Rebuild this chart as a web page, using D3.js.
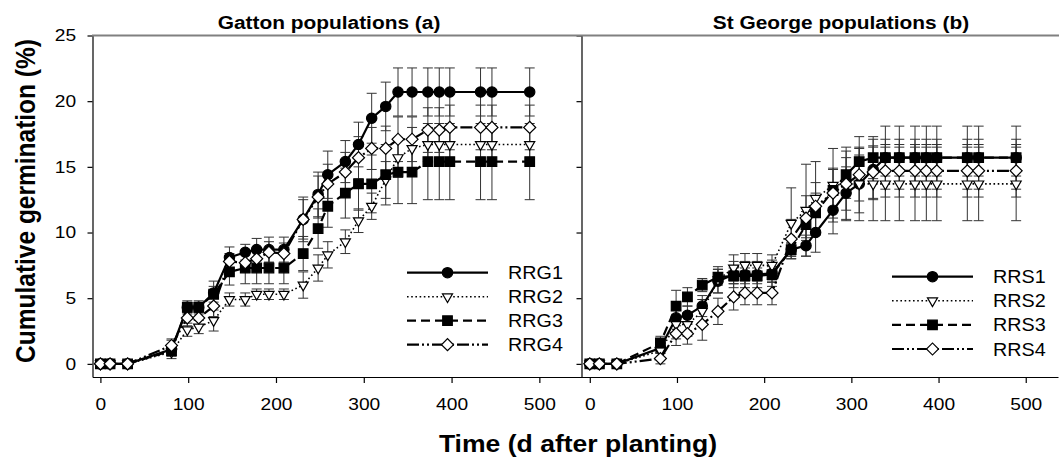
<!DOCTYPE html>
<html>
<head>
<meta charset="utf-8">
<script src="https://cdn.jsdelivr.net/npm/d3@7"></script>
<style>
  html, body { margin: 0; padding: 0; background: #ffffff; }
  svg { display: block; font-family: Arial, "Liberation Sans", sans-serif; }
</style>
</head>
<body>
<svg id="chart" width="1059" height="460"></svg>
<script>
// ---- data -------------------------------------------------------------
const days = [0, 11, 31, 81, 99, 112, 129, 147, 165, 178, 192, 209, 231, 248, 259,
              279, 294, 309, 325, 339, 355, 373, 386, 398, 433, 446, 489];

const xTicks = [0, 100, 200, 300, 400, 500];
const yTicks = [0, 5, 10, 15, 20, 25];
const panelTitles = ["Gatton populations (a)", "St George populations (b)"];
const xTitle = "Time (d after planting)";
const yTitle = "Cumulative germination (%)";

// Gatton populations
const gattonNames = ["RRG1", "RRG2", "RRG3", "RRG4"];
const rrg1 = [0, 0, 0, 1.1, 4.3, 4.3, 5.4, 8.1, 8.5, 8.7, 8.7, 8.7, 11.0, 12.9, 14.4, 15.4, 16.7, 18.7, 19.6, 20.7, 20.7, 20.7, 20.7, 20.7, 20.7, 20.7, 20.7];
const rrg2 = [0, 0, 0, 0.9, 2.6, 2.8, 3.3, 4.9, 4.9, 5.3, 5.3, 5.3, 6.0, 7.3, 8.3, 9.3, 10.9, 12.0, 14.0, 15.7, 16.4, 16.7, 16.7, 16.7, 16.7, 16.7, 16.7];
const rrg3 = [0, 0, 0, 1.0, 4.3, 4.3, 5.3, 7.0, 7.3, 7.3, 7.3, 7.3, 8.4, 10.3, 12.0, 13.0, 13.7, 13.7, 14.4, 14.6, 14.6, 15.4, 15.4, 15.4, 15.4, 15.4, 15.4];
const rrg4 = [0, 0, 0, 1.4, 3.5, 3.5, 4.4, 7.8, 7.7, 8.0, 8.5, 8.4, 11.0, 12.7, 13.7, 14.6, 15.7, 16.4, 16.4, 17.1, 17.1, 17.8, 17.8, 18.0, 18.0, 18.0, 18.0];
const rrg1Err = [0, 0, 0, 0.7, 0.4, 0.4, 0.9, 0.8, 0.6, 0.85, 0.95, 0.95, 1.5, 1.7, 1.8, 1.6, 1.7, 1.9, 1.85, 1.83, 1.83, 1.83, 1.83, 1.83, 1.83, 1.83, 1.83];
const rrg2Err = [0, 0, 0, 0.3, 0.5, 0.5, 0.8, 0.5, 0.5, 0.4, 0.4, 0.4, 1.0, 1.0, 1.0, 0.9, 0.9, 1.0, 1.4, 1.5, 1.6, 1.3, 1.3, 1.3, 1.3, 1.3, 1.3];
const rrg3Err = [0, 0, 0, 0.4, 0.5, 0.5, 0.6, 1.0, 1.2, 1.2, 1.2, 1.2, 1.3, 1.5, 1.6, 1.9, 2.0, 2.2, 2.3, 2.4, 2.4, 2.9, 2.9, 2.9, 2.9, 2.9, 2.9];
const rrg4Err = [0, 0, 0, 0.5, 0.6, 0.6, 0.8, 0.6, 0.7, 0.8, 0.8, 0.8, 1.7, 1.6, 1.5, 1.5, 1.6, 1.6, 1.7, 1.7, 1.7, 1.7, 1.7, 1.7, 1.7, 1.7, 1.7];

// St George populations
const stGeorgeNames = ["RRS1", "RRS2", "RRS3", "RRS4"];
const rrs1 = [0, 0, 0, 1.2, 3.5, 3.7, 4.4, 6.3, 6.8, 6.8, 6.8, 6.9, 8.7, 9.0, 10.0, 11.7, 13.0, 13.7, 14.8, 15.7, 15.7, 15.7, 15.7, 15.7, 15.7, 15.7, 15.7];
const rrs2 = [0, 0, 0, 1.0, 3.0, 3.0, 4.0, 6.4, 7.3, 7.5, 7.5, 7.5, 10.7, 11.7, 12.6, 13.6, 13.7, 13.7, 13.7, 13.7, 13.7, 13.7, 13.7, 13.7, 13.7, 13.7, 13.7];
const rrs3 = [0, 0, 0, 1.6, 4.4, 5.1, 6.0, 6.6, 6.7, 6.7, 6.7, 6.8, 8.7, 10.6, 11.5, 13.2, 14.4, 15.4, 15.7, 15.7, 15.7, 15.7, 15.7, 15.7, 15.7, 15.7, 15.7];
const rrs4 = [0, 0, 0, 0.4, 2.3, 2.3, 3.0, 4.0, 5.1, 5.4, 5.4, 5.4, 9.5, 11.1, 12.0, 13.0, 13.7, 14.4, 14.6, 14.7, 14.7, 14.7, 14.7, 14.7, 14.7, 14.7, 14.7];
const rrs1Err = [0, 0, 0, 0.4, 0.6, 0.7, 0.8, 0.9, 1.0, 1.0, 1.0, 1.0, 0.5, 0.8, 1.5, 1.8, 2.0, 2.2, 2.3, 2.4, 2.4, 2.4, 2.4, 2.4, 2.4, 2.4, 2.4];
const rrs2Err = [0, 0, 0, 0.6, 1.1, 0.9, 0.9, 1.0, 1.0, 0.9, 0.9, 0.8, 2.7, 3.5, 2.8, 2.8, 2.8, 2.8, 2.8, 2.8, 2.8, 2.8, 2.8, 2.8, 2.8, 2.8, 2.8];
const rrs3Err = [0, 0, 0, 0.5, 1.2, 0.7, 0.5, 0.6, 0.6, 0.6, 0.6, 0.6, 0.5, 1.0, 1.5, 1.6, 1.8, 1.9, 1.6, 1.4, 1.4, 1.4, 1.4, 1.4, 1.4, 1.4, 1.4];
const rrs4Err = [0, 0, 0, 0.4, 0.9, 0.8, 1.2, 1.0, 1.0, 0.9, 0.9, 0.9, 1.5, 1.7, 1.8, 1.9, 2.0, 2.0, 2.0, 2.0, 2.0, 2.0, 2.0, 2.0, 2.0, 2.0, 2.0];

// ---- layout & styles --------------------------------------------------
const TXS = 1.13;            // horizontal widening applied to all text
const W = 1059;
const plotTop = 35.5, plotBottom = 377;

const y = d3.scaleLinear().domain([-1, 25]).range([plotBottom, plotTop]);

const panels = [
  {
    title: panelTitles[0], names: gattonNames,
    values: [rrg1, rrg2, rrg3, rrg4], errors: [rrg1Err, rrg2Err, rrg3Err, rrg4Err],
    x: d3.scaleLinear().domain([-9, 548]).range([92.5, 581.5]),
    titleX: 329, yLabels: true,
    legend: { x0: 407, x1: 488, y0: 272.7, dy: 24, tx: 508 }
  },
  {
    title: panelTitles[1], names: stGeorgeNames,
    values: [rrs1, rrs2, rrs3, rrs4], errors: [rrs1Err, rrs2Err, rrs3Err, rrs4Err],
    x: d3.scaleLinear().domain([-9.5, 537]).range([581.5, 1058]),
    titleX: 841, yLabels: false,
    legend: { x0: 892, x1: 973, y0: 276.7, dy: 24.1, tx: 993 }
  }
];

const seriesStyle = [
  { symbol: d3.symbolCircle,   size: 84,  fill: "#000", rotate: 0,   dash: null,             width: 2.2 },
  { symbol: d3.symbolTriangle, size: 44,  fill: "#fff", rotate: 180, dash: "1.6,2.6",        width: 1.6 },
  { symbol: d3.symbolSquare,   size: 92,  fill: "#000", rotate: 0,   dash: "9,5",            width: 2.2 },
  { symbol: d3.symbolSquare,   size: 72,  fill: "#fff", rotate: 45,  dash: "12,3,2,3,2,3",   width: 2.2 }
];

const svg = d3.select("#chart");

function widen(sel) { sel.attr("transform", `scale(${TXS},1)`); }

function drawMarkers(g, pts, st) {
  const sym = d3.symbol().type(st.symbol).size(st.size);
  g.selectAll(null).data(pts).join("path")
    .attr("d", sym)
    .attr("transform", d => `translate(${d[0]},${d[1]}) rotate(${st.rotate})`)
    .attr("fill", st.fill)
    .attr("stroke", "#000")
    .attr("stroke-width", 1.2);
}

// ---- panels -----------------------------------------------------------
panels.forEach(p => {
  const x = p.x;
  const g = svg.append("g");

  // y axis
  const ya = d3.axisLeft(y).tickValues(yTicks).tickSize(5).tickSizeOuter(0).tickPadding(9.5)
    .tickFormat(p.yLabels ? d3.format("d") : () => "");
  const gy = g.append("g").attr("transform", `translate(${x.range()[0]},0)`).call(ya);
  gy.selectAll("text").style("font-size", "17px").attr("fill", "#000").call(widen);
  gy.selectAll("line, path").attr("stroke", "#000").attr("stroke-width", 1.2);

  // x axis
  const xa = d3.axisBottom(x).tickValues(xTicks).tickSize(6).tickSizeOuter(0).tickPadding(15).tickFormat(d3.format("d"));
  const gx = g.append("g").attr("transform", `translate(0,${plotBottom})`).call(xa);
  gx.selectAll("text").style("font-size", "17px").attr("fill", "#000").call(widen);
  gx.selectAll("line, path").attr("stroke", "#000").attr("stroke-width", 1.2);

  // panel title
  g.append("text")
    .attr("transform", `translate(${p.titleX},29) scale(${TXS},1)`)
    .attr("text-anchor", "middle")
    .style("font-size", "18.5px").style("font-weight", "bold")
    .text(p.title);

  // error bars for every series, beneath lines and symbols
  const eb = g.append("g").attr("stroke", "#333").attr("stroke-width", 1).attr("fill", "none");
  p.values.forEach((vals, si) => {
    const errs = p.errors[si];
    const rows = days.map((d, i) => ({ d, v: vals[i], e: errs[i] })).filter(r => r.e > 0);
    const bars = eb.selectAll(null).data(rows).join("g");
    bars.append("line")
      .attr("x1", r => x(r.d)).attr("x2", r => x(r.d))
      .attr("y1", r => y(r.v + r.e)).attr("y2", r => y(r.v - r.e));
    [1, -1].forEach(s => {
      bars.append("line")
        .attr("x1", r => x(r.d) - 5).attr("x2", r => x(r.d) + 5)
        .attr("y1", r => y(r.v + s * r.e)).attr("y2", r => y(r.v + s * r.e));
    });
  });

  // lines then symbols, series by series
  p.values.forEach((vals, si) => {
    const st = seriesStyle[si];
    const pts = days.map((d, i) => [x(d), y(vals[i])]);
    g.append("path")
      .attr("d", d3.line()(pts))
      .attr("fill", "none").attr("stroke", "#000")
      .attr("stroke-width", st.width)
      .attr("stroke-dasharray", st.dash);
    drawMarkers(g.append("g"), pts, st);
  });

  // legend
  const L = p.legend;
  p.names.forEach((name, si) => {
    const st = seriesStyle[si];
    const ly = L.y0 + si * L.dy;
    g.append("line")
      .attr("x1", L.x0).attr("x2", L.x1).attr("y1", ly).attr("y2", ly)
      .attr("stroke", "#000").attr("stroke-width", st.width)
      .attr("stroke-dasharray", st.dash);
    drawMarkers(g.append("g"), [[(L.x0 + L.x1) / 2, ly]], st);
    g.append("text")
      .attr("transform", `translate(${L.tx},${ly + 6.5}) scale(${TXS},1)`)
      .style("font-size", "17.5px")
      .text(name);
  });
});

// frame: grey top rule across both panels
svg.append("line")
  .attr("x1", 92).attr("x2", W).attr("y1", plotTop).attr("y2", plotTop)
  .attr("stroke", "#808080").attr("stroke-width", 2);

// axis titles
svg.append("text")
  .attr("transform", `translate(578,452) scale(${TXS},1)`)
  .attr("text-anchor", "middle")
  .style("font-size", "23.5px").style("font-weight", "bold")
  .text(xTitle);

svg.append("text")
  .attr("transform", `translate(35,201) scale(${TXS},1) rotate(-90)`)
  .attr("text-anchor", "middle")
  .style("font-size", "24.5px").style("font-weight", "bold")
  .text(yTitle);
</script>
</body>
</html>
